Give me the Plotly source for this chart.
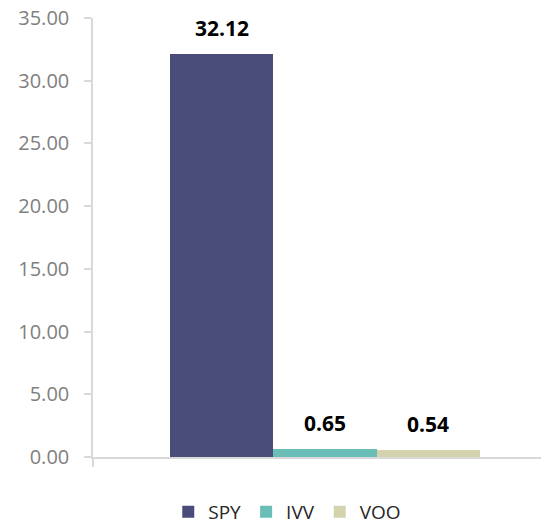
import plotly.graph_objects as go

series = ["SPY", "IVV", "VOO"]
values = [32.12, 0.65, 0.54]
colors = ["#4a4d7a", "#6bbdb8", "#d5d3ad"]
tick_vals = [0, 5, 10, 15, 20, 25, 30, 35]

FONT = "Open Sans"
X_RANGE = [-1.245, 3.09]

fig = go.Figure()
for name, val, col in zip(series, values, colors):
    fig.add_trace(go.Bar(
        x=[name], y=[val], name=name,
        marker=dict(color=col, line=dict(width=0)),
    ))
    fig.add_annotation(
        x=name, y=val, xref="x", yref="y",
        text="<b>%.2f</b>" % val, showarrow=False,
        yanchor="middle", yshift=26,
        font=dict(family=FONT, size=21, color="#000000"),
    )

fig.update_layout(
    width=542, height=524,
    margin=dict(l=93, r=1, t=18, b=67, autoexpand=False),
    paper_bgcolor="white", plot_bgcolor="white",
    barmode="relative", bargap=0,
    font=dict(family=FONT, size=18, color="#595959"),
    showlegend=True,
    legend=dict(
        orientation="h", xref="container", yref="container",
        x=0.53, xanchor="center", y=0.023, yanchor="middle",
        font=dict(family=FONT, size=19, color="#262626"),
        itemwidth=30, tracegroupgap=0,
    ),
    xaxis=dict(
        type="category", range=X_RANGE,
        tickmode="array", tickvals=[X_RANGE[0]], ticktext=[""],
        showticklabels=False, showgrid=False, zeroline=False,
        showline=True, linecolor="#d9d9d9", linewidth=1.5,
        ticks="outside", ticklen=8, tickcolor="#d9d9d9", tickwidth=1.5,
        fixedrange=True,
    ),
    yaxis=dict(
        range=[0, 35], tickvals=tick_vals, tickformat=".2f",
        showgrid=False, zeroline=False,
        showline=True, linecolor="#d9d9d9", linewidth=1.5,
        ticks="outside", ticklen=7, tickcolor="#d9d9d9", tickwidth=1.5,
        tickfont=dict(family=FONT, size=20, color="#808080"),
        ticklabelstandoff=11,
        fixedrange=True,
    ),
)

fig.write_html(
    "out.html",
    config={"displayModeBar": False},
    post_script="document.body.style.margin='0';document.body.style.overflow='hidden';",
)
